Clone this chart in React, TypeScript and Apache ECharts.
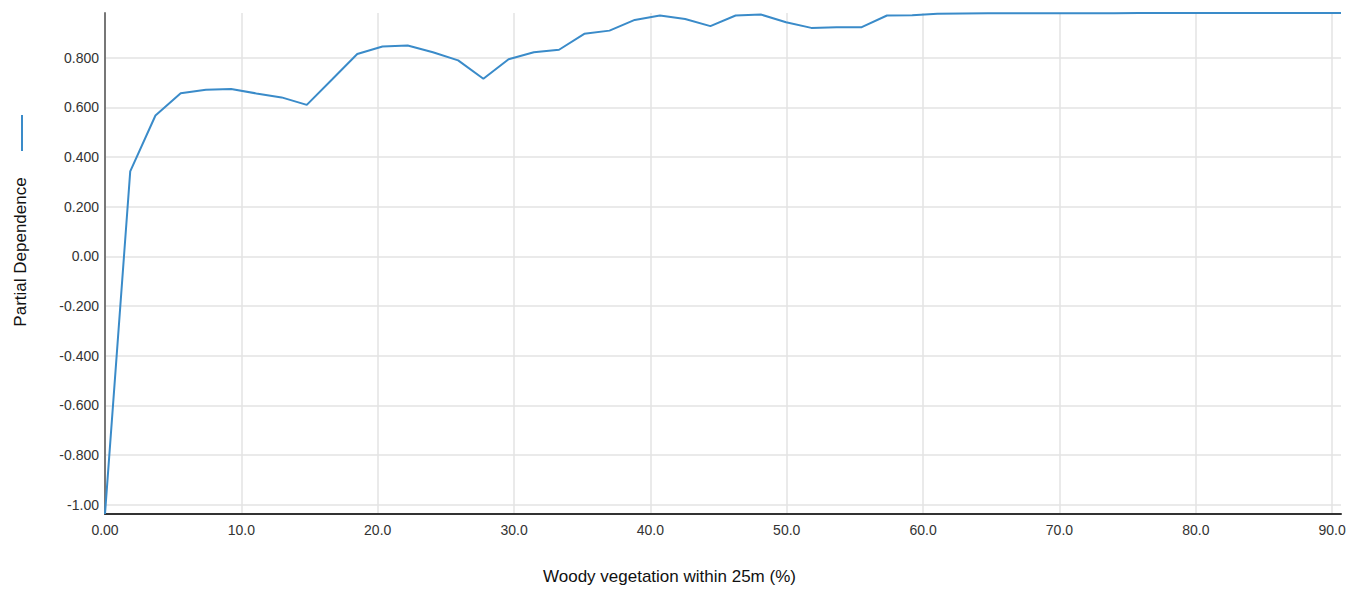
import React, { useEffect, useRef } from "react";
import * as echarts from "echarts";

const xValues = [
  0, 1.85, 3.7, 5.55, 7.4, 9.25, 11.1, 12.95, 14.8, 16.65, 18.5, 20.35, 22.2, 24.05, 25.9, 27.75,
  29.6, 31.45, 33.3, 35.15, 37.0, 38.85, 40.7, 42.55, 44.4, 46.25, 48.1, 49.95, 51.8, 53.65, 55.5,
  57.35, 59.2, 61.05, 62.9, 64.75, 66.6, 68.45, 70.3, 72.15, 74.0, 75.85, 77.7, 79.55, 81.4, 83.25,
  85.1, 86.95, 88.8, 90.65,
];
const yValues = [
  -1.038, 0.342, 0.567, 0.657, 0.671, 0.674, 0.656, 0.64, 0.61, 0.712, 0.815, 0.845, 0.849, 0.822,
  0.789, 0.715, 0.794, 0.822, 0.832, 0.896, 0.909, 0.952, 0.97, 0.956, 0.927, 0.97, 0.974, 0.943,
  0.92, 0.923, 0.923, 0.97, 0.971, 0.977, 0.978, 0.979, 0.979, 0.979, 0.979, 0.979, 0.979, 0.98,
  0.98, 0.98, 0.98, 0.98, 0.98, 0.98, 0.98, 0.98,
];
const yTicks = [-1.0, -0.8, -0.6, -0.4, -0.2, 0.0, 0.2, 0.4, 0.6, 0.8];
const xTitle = "Woody vegetation within 25m (%)";
const yTitle = "Partial Dependence";

export default function App() {
  const ref = useRef<HTMLDivElement>(null);
  useEffect(() => {
    if (!ref.current) return;
    const chart = echarts.init(ref.current, null, { renderer: "svg" });
    const fmt = (v: number) => Number(v).toPrecision(3);
    chart.setOption({
      animation: false,
      backgroundColor: "#ffffff",
      grid: { left: 105, right: 16, top: 13, bottom: 76, containLabel: false },
      xAxis: {
        type: "value",
        min: 0,
        max: 90.65,
        interval: 10,
        axisLine: { show: true, onZero: false, lineStyle: { color: "#333", width: 2 } },
        axisTick: { show: false },
        axisLabel: {
          formatter: fmt,
          showMaxLabel: false,
          color: "#333",
          fontSize: 14,
          fontFamily: "Liberation Sans, Arial, sans-serif",
          margin: 9,
        },
        splitLine: { show: true, showMinLine: false, showMaxLine: false, lineStyle: { color: "#e3e3e3", width: 1.5 } },
      },
      yAxis: {
        type: "value",
        min: -1.038,
        max: 0.98,
        axisLine: { show: true, onZero: false, lineStyle: { color: "#777", width: 2 } },
        axisTick: { show: false, customValues: yTicks },
        axisLabel: {
          customValues: yTicks,
          formatter: fmt,
          color: "#333",
          fontSize: 14,
          fontFamily: "Liberation Sans, Arial, sans-serif",
          margin: 6,
        },
        splitLine: { show: true, lineStyle: { color: "#e3e3e3", width: 1.5 } },
      },
      graphic: [
        {
          type: "text",
          left: 543,
          top: 568,
          style: {
            text: xTitle,
            fill: "#111",
            fontSize: 17,
            fontFamily: "Liberation Sans, Arial, sans-serif",
          },
        },
        {
          type: "text",
          x: 20,
          y: 252,
          rotation: Math.PI / 2,
          style: {
            text: yTitle,
            fill: "#111",
            fontSize: 17,
            fontFamily: "Liberation Sans, Arial, sans-serif",
            align: "center",
            verticalAlign: "middle",
          },
        },
        {
          type: "line",
          shape: { x1: 22, y1: 115, x2: 22, y2: 151 },
          style: { stroke: "#3a8bc9", lineWidth: 2 },
        },
      ],
      series: [
        {
          type: "line",
          data: xValues.map((x, i) => [x, yValues[i]]),
          showSymbol: false,
          symbol: "none",
          lineStyle: { color: "#3a8bc9", width: 2 },
          clip: false,
        },
      ],
    });
    return () => chart.dispose();
  }, []);
  return <div ref={ref} style={{ position: "absolute", left: 0, top: 0, width: 1357, height: 590 }} />;
}
